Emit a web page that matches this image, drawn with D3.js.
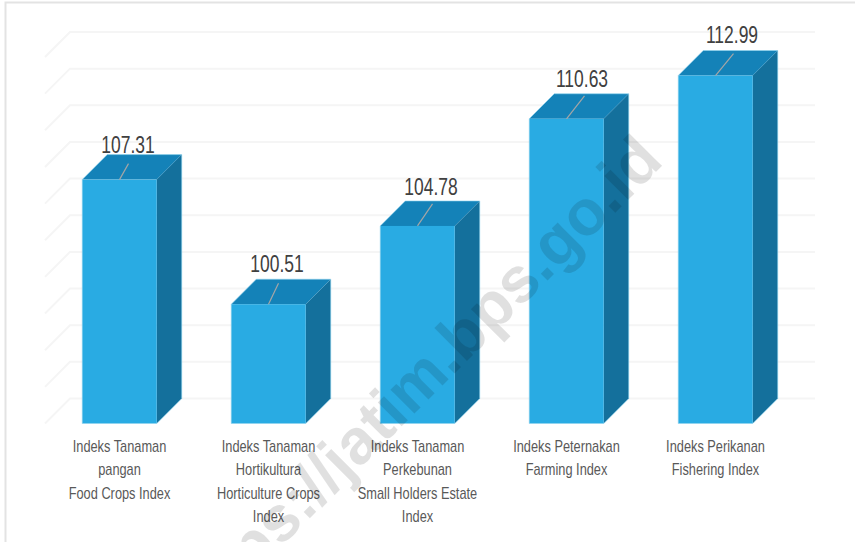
<!DOCTYPE html>
<html><head><meta charset="utf-8">
<script src="https://cdn.jsdelivr.net/npm/d3@7"></script>
<style>html,body{margin:0;padding:0;background:#fff}svg{display:block}</style></head>
<body><svg id="c" width="855" height="542"></svg>
<script>
const categories = [
  ["Indeks Tanaman","pangan","Food Crops Index"],
  ["Indeks Tanaman","Hortikultura","Horticulture Crops","Index"],
  ["Indeks Tanaman","Perkebunan","Small Holders Estate","Index"],
  ["Indeks Peternakan","Farming Index"],
  ["Indeks Perikanan","Fishering Index"]
];
const values = [107.31,100.51,104.78,110.63,112.99];
const labels = ["107.31","100.51","104.78","110.63","112.99"];
const gridTicks = [94,96,98,100,102,104,106,108,110,112,114];
const watermark = "https://jatim.bps.go.id";

const W=855,H=542,depth=25;
const svg=d3.select("#c");
const x=d3.scaleBand().domain(d3.range(values.length)).range([45,790]).paddingInner(.5).paddingOuter(.25);
const y=d3.scaleLinear().domain([94,114]).range([423.5,57]);
const font="'Liberation Sans',Arial,sans-serif";

// frame
svg.append("path").attr("d",`M${W},2.5H5.5V${H}`).attr("fill","none").attr("stroke","#e3e3e3").attr("stroke-width",2);

// gridlines: back wall + side wall
const g=svg.append("g").attr("fill","none").attr("stroke","#f5f5f5").attr("stroke-width",2);
g.selectAll("path").data(gridTicks).join("path")
 .attr("d",d=>`M45,${y(d)}L${45+depth},${y(d)-depth}H815`);

// bars
const bars=svg.append("g").selectAll("g").data(values).join("g");
const px=(i)=>x(i), bw=x.bandwidth();
bars.append("path").attr("fill","#14709c")
 .attr("d",(d,i)=>`M${px(i)+bw},${y(94)}V${y(d)}l${depth},${-depth}V${y(94)-depth}Z`);
bars.append("path").attr("fill","#1482b8")
 .attr("d",(d,i)=>`M${px(i)},${y(d)}l${depth},${-depth}h${bw}l${-depth},${depth}Z`);
bars.append("rect").attr("fill","#29abe3")
 .attr("x",(d,i)=>px(i)).attr("y",d=>y(d)).attr("width",bw).attr("height",d=>y(94)-y(d));
bars.append("path").attr("fill","none").attr("stroke","#8fd3ee").attr("stroke-width",1).attr("stroke-opacity",.6)
 .attr("d",(d,i)=>`M${px(i)},${y(94)}V${y(d)}l${depth},${-depth}h${bw}V${y(94)-depth}l${-depth},${depth}H${px(i)}`);

// leader lines
const leaderDX=[9,10,15,18,18], leaderDY=[16,21,22,23,22];
svg.append("g").attr("stroke","#a6a6a6").attr("stroke-width",1.2).selectAll("line").data(values).join("line")
 .attr("x1",(d,i)=>px(i)+bw/2).attr("y1",d=>y(d))
 .attr("x2",(d,i)=>px(i)+bw/2+leaderDX[i]).attr("y2",(d,i)=>y(d)-leaderDY[i]);

// value labels
const labelDX=[8.5,8.5,13.5,15.5,16.5], labelDY=[26.5,32,31,31.7,32.4];
svg.append("g").attr("font-family",font).attr("font-size",23).attr("fill","#404040").attr("text-anchor","middle")
 .selectAll("text").data(labels).join("text")
 .attr("transform",(d,i)=>`translate(${px(i)+bw/2+labelDX[i]},${y(values[i])-labelDY[i]}) scale(.76,1)`).text(d=>d);

// category labels
const cat=svg.append("g").attr("font-family",font).attr("font-size",16).attr("fill","#595959").attr("text-anchor","middle")
 .selectAll("text").data(categories).join("text").attr("transform",(d,i)=>`translate(${px(i)+bw/2},0) scale(.8,1)`);
cat.selectAll("tspan").data(d=>d).join("tspan").attr("x",0).attr("y",(d,j)=>452+j*23.4).text(d=>d);

// watermark
svg.append("text").attr("transform","translate(195,633) rotate(-45)").attr("text-anchor","start")
 .attr("font-family",font).attr("font-weight","bold").attr("font-size",64)
 .attr("fill","#000").attr("fill-opacity",.12).text(watermark);
</script></body></html>
